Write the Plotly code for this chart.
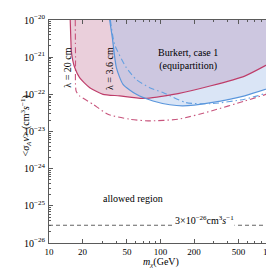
import plotly.graph_objects as go

# ---- data ----
red_solid_m = [15.5, 15.7, 15.85, 16.3, 17.0, 18.8, 23.2, 30.5, 43.0, 69.7, 143.6, 283.8, 569, 1000]
red_solid_s = [1e-20, 3.0e-21, 1.48e-21, 8.5e-22, 5.25e-22, 2.82e-22, 1.51e-22, 1.0e-22, 9.1e-23, 7.8e-23, 1.05e-22, 1.70e-22, 3.1e-22, 7.4e-22]

red_dd_m = [17.2, 17.3, 17.5, 18.8, 24.8, 33.8, 53.0, 77.3, 143.6, 283.8, 569, 1000]
red_dd_s = [1e-20, 9.8e-22, 1.23e-22, 9.1e-23, 5.4e-23, 2.9e-23, 2.14e-23, 1.93e-23, 2.14e-23, 3.55e-23, 6.6e-23, 1.12e-22]

blue_solid_m = [35.0, 37.0, 40.2, 46.1, 60.7, 85.6, 121, 159, 284, 569, 1000]
blue_solid_s = [1e-20, 3.3e-21, 5.25e-22, 1.86e-22, 1.0e-22, 6.6e-23, 5.25e-23, 4.9e-23, 6.0e-23, 9.1e-23, 1.55e-22]

blue_dd_m = [35.5, 38.8, 49.3, 60.7, 80, 105, 169, 284, 569, 1000]
blue_dd_s = [1e-20, 2.19e-21, 5.25e-22, 2.5e-22, 1.51e-22, 1.12e-22, 6.0e-23, 5.6e-23, 7.4e-23, 1.2e-22]

relic_m = [10, 1000]
relic_s = [3e-26, 3e-26]

x_tickvals = [10, 20, 50, 100, 200, 500, 1000]
x_ticktext = ["10", "20", "50", "100", "200", "500", "1000"]
y_tickvals = [1e-20, 1e-21, 1e-22, 1e-23, 1e-24, 1e-25, 1e-26]
y_ticktext = ["10<sup>−20</sup>", "10<sup>−21</sup>", "10<sup>−22</sup>", "10<sup>−23</sup>",
              "10<sup>−24</sup>", "10<sup>−25</sup>", "10<sup>−26</sup>"]

X_MAX = 1000
Y_TOP = 1e-20

RED = "rgb(190,60,105)"
RED_DD = "rgb(200,85,125)"
BLUE = "rgb(90,150,220)"
BLUE_DD = "rgb(100,160,225)"
FONT = "Liberation Serif"

fig = go.Figure()

# filled excluded regions
fig.add_trace(go.Scatter(x=red_solid_m + [X_MAX], y=red_solid_s + [Y_TOP], fill="toself",
                         fillcolor="rgba(185,95,135,0.30)", line=dict(width=0),
                         mode="lines", hoverinfo="skip", showlegend=False))
fig.add_trace(go.Scatter(x=blue_solid_m + [X_MAX], y=blue_solid_s + [Y_TOP], fill="toself",
                         fillcolor="rgba(158,187,231,0.38)", line=dict(width=0),
                         mode="lines", hoverinfo="skip", showlegend=False))

# lines
fig.add_trace(go.Scatter(x=red_dd_m, y=red_dd_s, mode="lines",
                         line=dict(color=RED_DD, width=1.1, dash="6px,3px,1.5px,3px", shape="spline", smoothing=0.6),
                         showlegend=False))
fig.add_trace(go.Scatter(x=blue_dd_m, y=blue_dd_s, mode="lines",
                         line=dict(color=BLUE_DD, width=1.1, dash="6px,3px,1.5px,3px", shape="spline", smoothing=0.6),
                         showlegend=False))
fig.add_trace(go.Scatter(x=red_solid_m, y=red_solid_s, mode="lines",
                         line=dict(color=RED, width=1.2, shape="spline", smoothing=0.6), showlegend=False))
fig.add_trace(go.Scatter(x=blue_solid_m, y=blue_solid_s, mode="lines",
                         line=dict(color=BLUE, width=1.2, shape="spline", smoothing=0.6), showlegend=False))
fig.add_trace(go.Scatter(x=relic_m, y=relic_s, mode="lines",
                         line=dict(color="rgb(100,100,100)", width=1.1, dash="4px,3px"), showlegend=False))

axis_common = dict(showline=True, linecolor="rgb(90,90,90)", linewidth=1, mirror="allticks",
                   ticks="inside", ticklen=4, tickcolor="rgb(90,90,90)", showgrid=False, zeroline=False,
                   automargin=False,
                   minor=dict(ticks="inside", ticklen=2, tickcolor="rgb(90,90,90)", dtick="D1", showgrid=False))

fig.update_xaxes(type="log", range=[1, 3], tickvals=x_tickvals, ticktext=x_ticktext,
                 tickfont=dict(family=FONT, size=9, color="black"), ticklabelstandoff=0, **axis_common)
fig.update_yaxes(type="log", range=[-26, -20], tickvals=y_tickvals, ticktext=y_ticktext,
                 tickfont=dict(family=FONT, size=10, color="black"), ticklabelstandoff=1, **axis_common)

ann_font = dict(family=FONT, size=10, color="black")
fig.update_layout(
    width=274, height=268,
    margin=dict(l=41, r=10, t=12, b=33),
    plot_bgcolor="white", paper_bgcolor="white",
    annotations=[
        dict(x=0.0516, y=0.885, xref="paper", yref="paper", text="λ = 20 cm", textangle=-90,
             showarrow=False, font=ann_font),
        dict(x=0.2345, y=0.889, xref="paper", yref="paper", text="λ = 3.6 cm", textangle=-90,
             showarrow=False, font=ann_font),
        dict(x=0.767, y=0.889, xref="paper", yref="paper", text="Burkert, case 1<br>(equipartition)",
             showarrow=False, font=ann_font),
        dict(x=0.233, y=0.168, xref="paper", yref="paper", text="allowed region",
             showarrow=False, font=ann_font),
        dict(x=0.835, y=0.072, xref="paper", yref="paper",
             text="3×10<sup>−26</sup>cm<sup>3</sup><i>s</i><sup>−1</sup>",
             showarrow=False, font=dict(family=FONT, size=10, color="black"), bgcolor="white", borderpad=0),
        dict(x=-0.1435, y=0.527, xref="paper", yref="paper",
             text="&lt;<i>σ</i><sub><i>A</i></sub><i>v</i>&gt; (cm<sup>3</sup><i>s</i><sup>−1</sup>)",
             textangle=-90, showarrow=False, font=ann_font),
        dict(x=0.5, y=-0.125, xref="paper", yref="paper", yanchor="bottom",
             text="<i>m</i><sub><i>χ</i></sub>(GeV)", showarrow=False, font=ann_font),
    ],
)

fig.write_html("out.html")
